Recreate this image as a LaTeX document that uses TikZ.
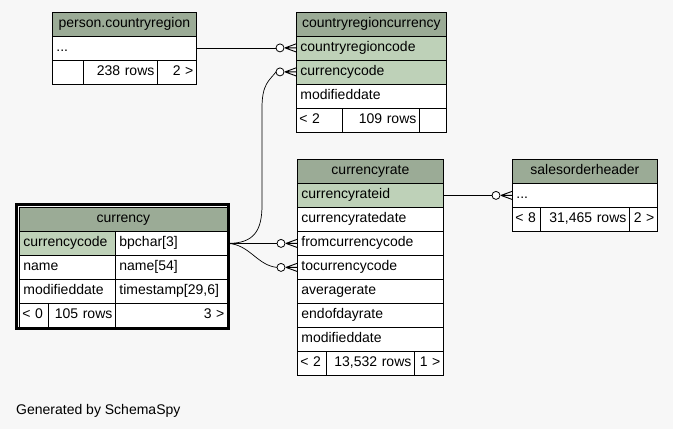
\documentclass[tikz,border=0pt]{standalone}
\usepackage{fontspec}
\setmainfont{Liberation Sans}
\usetikzlibrary{positioning,calc}
\definecolor{pageBg}{HTML}{F7F7F7}
\definecolor{headBg}{HTML}{9BAB96}
\definecolor{keyBg}{HTML}{BED1B8}

\begin{document}
\begin{tikzpicture}[
    x=1pt, y=-1pt,
    font=\fontsize{14}{16}\selectfont,
    cell/.style={draw=black, line width=0.8pt, fill=white, anchor=north west,
      minimum height=24pt, inner xsep=4pt, inner ysep=0pt,
      text height=10pt, text depth=3.5pt, text width=#1pt-8pt, align=left},
    head/.style={cell=#1, fill=headBg, align=center},
    foot/.style={cell=#1, align=right, inner xsep=3pt, text width=#1pt-6pt},
    link/.style={line width=0.7pt, black},
    crow/.style={line width=0.9pt, black},
    ring/.style={line width=0.8pt, black, fill=white},
    selBox/.style={line width=3pt, black},
]
\fill[pageBg] (0,0) rectangle (673,429);

% person.countryregion
\node[head=144] (pcr-h) at (52,11.5) {person.countryregion};
\node[cell=144] (pcr-1) at (52,35.5) {...};
\foreach \x/\w/\txt/\a [count=\i] in {52/31/{}/left, 83/74/{238 rows}/right, 157/39/{2 >}/right}
  \node[foot=\w, align=\a] (pcr-f\i) at (\x,59.5) {\txt};

% countryregioncurrency
\node[head=150] (crc-h) at (296,11.5) {countryregioncurrency};
\foreach \txt/\bg [count=\i] in {countryregioncode/keyBg, currencycode/keyBg, modifieddate/white}
  \node[cell=150, fill=\bg] (crc-\i) at (296,{11.5+24*\i}) {\txt};
\foreach \x/\w/\txt/\a [count=\i] in {296/46/{< 2}/left, 342/77/{109 rows}/right, 419/27/{}/right}
  \node[foot=\w, align=\a] (crc-f\i) at (\x,107.5) {\txt};

% currency (selected)
\node[head=208] (ccy-h) at (19,207) {currency};
\foreach \txt/\typ/\bg [count=\i] in {currencycode/{bpchar[3]}/keyBg, name/{name[54]}/white, modifieddate/{timestamp[29,6]}/white} {
  \node[cell=96, fill=\bg] (ccy-\i) at (19,{207+24*\i}) {\txt};
  \node[cell=112] (ccy-\i t) at (115,{207+24*\i}) {\typ};
}
\foreach \x/\w/\txt/\a [count=\i] in {19/29/{< 0}/left, 48/67/{105 rows}/right, 115/112/{3 >}/right}
  \node[foot=\w, align=\a] (ccy-f\i) at (\x,303) {\txt};
\draw[selBox] (16.5,204.5) rectangle (228.5,328.5);

% currencyrate
\node[head=146] (cr-h) at (297,159) {currencyrate};
\foreach \txt/\bg [count=\i] in {currencyrateid/keyBg, currencyratedate/white, fromcurrencycode/white,
    tocurrencycode/white, averagerate/white, endofdayrate/white, modifieddate/white}
  \node[cell=146, fill=\bg] (cr-\i) at (297,{159+24*\i}) {\txt};
\foreach \x/\w/\txt/\a [count=\i] in {297/29/{< 2}/left, 326/88/{13,532 rows}/right, 414/29/{1 >}/right}
  \node[foot=\w, align=\a] (cr-f\i) at (\x,351) {\txt};

% salesorderheader
\node[head=145] (soh-h) at (512,159) {salesorderheader};
\node[cell=145] (soh-1) at (512,183) {...};
\foreach \x/\w/\txt/\a [count=\i] in {512/28/{< 8}/left, 540/89/{31,465 rows}/right, 629/28/{2 >}/right}
  \node[foot=\w, align=\a] (soh-f\i) at (\x,207) {\txt};

% relationships
\coordinate (bendLo) at (262,205);
\coordinate (bendHi) at (262,108);
\draw[link] (pcr-1.east) -- ($(crc-1.west)+(-20,0)$);
\draw[link] (cr-1.east) -- ($(soh-1.west)+(-20,0)$);
\draw[link] (ccy-1t.east) -- ($(cr-3.west)+(-20,0)$);
\draw[link] (ccy-1t.east) .. controls +(22,1) and +(-20,-2) .. ($(cr-4.west)+(-20,0)$);
\draw[link] (ccy-1t.east) .. controls +(26,0) and +(0,26) .. (bendLo) -- (bendHi)
  .. controls +(0,-24) and +(-7,9) .. ($(crc-2.west)+(-20,0)$);
\foreach \n in {crc-1, crc-2, cr-3, cr-4, soh-1} {
  \draw[ring] ($(\n.west)+(-16,0)$) circle (4);
  \draw[crow] ($(\n.west)+(-11,0)$) -- ($(\n.west)+(0,-4)$)
    ($(\n.west)+(-11,0)$) -- (\n.west)
    ($(\n.west)+(-11,0)$) -- ($(\n.west)+(0,4)$);
}

\node[anchor=base west, inner sep=0pt] (gen) at (16,414) {Generated by SchemaSpy};
\end{tikzpicture}
\end{document}
